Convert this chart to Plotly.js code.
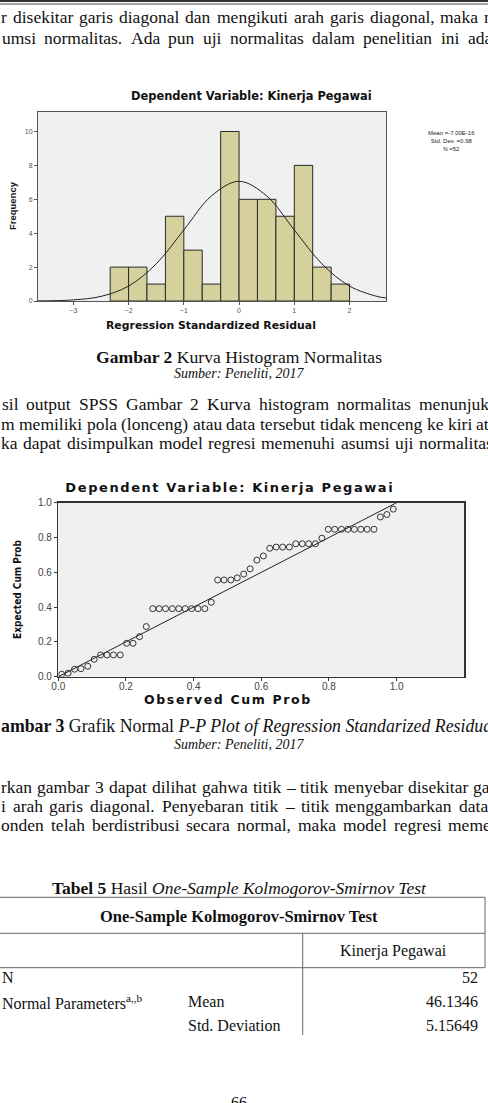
<!DOCTYPE html>
<html><head><meta charset="utf-8">
<script src="https://cdn.plot.ly/plotly-3.0.1.min.js"></script>
<style>html,body{margin:0;padding:0;background:#fff;overflow:hidden}</style>
</head><body>
<div id="chart" style="width:488px;height:1103px"></div>
<script>
// ===== DATA =====
// Histogram (Gambar 2)
const histBinEdges = [-2.333,-2,-1.667,-1.333,-1,-0.667,-0.333,0,0.333,0.667,1,1.333,1.667,2];
const histCounts   = [2,2,1,5,3,1,10,6,6,5,8,2,1];
const histXTicks   = [-3,-2,-1,0,1,2];
const histYTicks   = [0,2,4,6,8,10];
const curveX = [-3.64,-3.5,-3.0,-2.5,-2.0,-1.5,-1.0,-0.5,0,0.5,1.0,1.5,2.0,2.5,2.66];
const curveY = [0.007,0.012,0.065,0.27,0.88,2.19,4.19,6.2,7.06,6.2,4.19,2.19,0.88,0.27,0.18];
const histStats = ["Mean =-7.00E-16","Std. Dev. =0.98","N =52"];
// P-P plot (Gambar 3)
const ppObserved = [0.010,0.029,0.048,0.067,0.087,0.106,0.125,0.144,0.163,0.183,0.202,0.221,0.240,0.260,0.279,0.298,0.317,0.337,0.356,0.375,0.394,0.413,0.433,0.452,0.471,0.490,0.510,0.529,0.548,0.567,0.587,0.606,0.625,0.644,0.663,0.683,0.702,0.721,0.740,0.760,0.779,0.798,0.817,0.837,0.856,0.875,0.894,0.913,0.933,0.952,0.971,0.990];
const ppExpected = [0.014,0.020,0.043,0.046,0.060,0.100,0.125,0.125,0.125,0.125,0.192,0.192,0.230,0.288,0.391,0.391,0.391,0.391,0.391,0.391,0.391,0.391,0.391,0.428,0.556,0.556,0.556,0.568,0.590,0.620,0.670,0.694,0.738,0.745,0.745,0.745,0.764,0.764,0.764,0.764,0.796,0.847,0.847,0.847,0.847,0.847,0.847,0.847,0.847,0.918,0.932,0.963];
const ppRefX = [0,1];
const ppRefY = [0,1];
const ppTicks = [0,0.2,0.4,0.6,0.8,1.0];
// Table 5
const tableTitle = "One-Sample Kolmogorov-Smirnov Test";
const tableColHeader = "Kinerja Pegawai";
const tableRowLabels = ["N","Normal Parameters<sup>a,,b</sup>",""];
const tableSubLabels = ["","Mean","Std. Deviation"];
const tableValues = ["52","46.1346","5.15649"];
// Page text
const textTop = [
  "r disekitar garis diagonal dan mengikuti arah garis diagonal, maka m",
  "umsi normalitas. Ada pun uji normalitas dalam penelitian ini ada"];
const textMid = [
  "sil output SPSS Gambar 2 Kurva histogram normalitas menunjuk",
  "m memiliki pola (lonceng) atau data tersebut tidak menceng ke kiri at",
  "ka dapat disimpulkan model regresi memenuhi asumsi uji normalitas"];
const textLow = [
  "rkan gambar 3 dapat dilihat gahwa titik \u2013 titik menyebar disekitar ga",
  "i arah garis diagonal. Penyebaran titik \u2013 titik menggambarkan data",
  "onden telah berdistribusi secara normal, maka model regresi meme"];

// ===== LAYOUT HELPERS =====
const W = 488, H = 1103;
const SERIF = "Liberation Serif, Times New Roman, serif";
const ARIAL = "Liberation Sans, Arial, sans-serif";
const WIDE = "DejaVu Sans, Verdana, sans-serif";
const NARROW = "Liberation Sans Narrow, DejaVu Sans Condensed, sans-serif";
const fx = x => x / W, fy = y => 1 - y / H;
const ctx = document.createElement('canvas').getContext('2d');
function measure(t, size, family, weight, style) {
  const fam = family.split(',').map(s => { s = s.trim(); return /\s/.test(s) ? "'" + s + "'" : s; }).join(',');
  ctx.font = (style || 'normal') + ' ' + (weight || 'normal') + ' ' + size + 'px ' + fam;
  return ctx.measureText(t).width;
}
function fit(t, family, weight, target) { return 20 * target / measure(t, 20, family, weight); }

const anns = [];
const spacing = {};
function A(text, x, y, o) {
  o = o || {};
  anns.push({text: text, x: fx(x), y: fy(y), xref: 'paper', yref: 'paper', showarrow: false,
    xanchor: o.xa || 'center', yanchor: 'middle', textangle: o.angle || 0, align: o.align || 'center',
    borderpad: 0,
    font: {family: o.family || SERIF, size: o.size || 17, color: o.color || '#111', weight: o.weight || 'normal', style: o.style || 'normal'}});
  return anns.length - 1;
}
// text drawn with a little extra letter spacing so it spans `target` px at a given font size
function spaced(text, x, y, size, target, o) {
  o = Object.assign({family: WIDE, weight: 'bold', size: size}, o || {});
  const w = measure(text, size, o.family, o.weight);
  const idx = A(text, x, y, o);
  spacing[idx] = Math.max(0, (target - w) / text.length);
}
function justify(line, y, x0, x1, size) {
  const words = line.split(' ');
  const ws = words.map(w => measure(w, size, SERIF));
  const tot = ws.reduce((a, b) => a + b, 0);
  const gap = words.length > 1 ? (x1 - x0 - tot) / (words.length - 1) : 0;
  let x = x0;
  words.forEach((w, i) => { A(w, x, y, {xa: 'left', size: size}); x += ws[i] + gap; });
}
const shapes = [];
function L(x0, y0, x1, y1, w, c) {
  shapes.push({type: 'line', xref: 'paper', yref: 'paper', x0: fx(x0), y0: fy(y0), x1: fx(x1), y1: fy(y1),
    line: {color: c || '#555', width: w || 1}});
}

// ===== TEXT =====
const BODY = 17.5;
L(0, 1, W, 1, 2, '#333'); L(0, 4, W, 4, 1, '#444');
justify(textTop[0], 16.7, 0, 497, BODY);
justify(textTop[1], 38.5, 0.5, 491, BODY);
justify(textMid[0], 404, 0.5, 488, BODY);
justify(textMid[1], 424, 0, 488, BODY);
justify(textMid[2], 443.5, 0, 492, BODY);
justify(textLow[0], 787.3, 0, 489, BODY);
justify(textLow[1], 806, 0, 487, BODY);
justify(textLow[2], 825, 0, 490, BODY);

A("<b>Gambar 2</b> Kurva Histogram Normalitas", 239, 356.7, {size: 17.6});
A("<i>Sumber: Peneliti, 2017</i>", 238.5, 374, {size: 14});
A("<b>ambar 3</b> Grafik Normal <i>P-P Plot of Regression Standarized Residua</i>", -0.5, 726, {xa: 'left', size: 17.8});
A("<i>Sumber: Peneliti, 2017</i>", 238.5, 744.3, {size: 14});
A("<b>Tabel 5</b> Hasil <i>One-Sample Kolmogorov-Smirnov Test</i>", 239.2, 887.7, {size: 17.5});

// chart titles & axis labels
const T1 = "Dependent Variable: Kinerja Pegawai";
A(T1, 251.5, 96.5, {family: WIDE, weight: 'bold', size: fit(T1, WIDE, 'bold', 241), color: '#111'});
A("Regression Standardized Residual", 211, 325.7, {family: WIDE, weight: 'bold', size: fit("Regression Standardized Residual", WIDE, 'bold', 210)});
A("Frequency", 12, 206, {family: ARIAL, weight: 'bold', angle: -90, size: fit("Frequency", ARIAL, 'bold', 48)});
A(histStats.join('<br>'), 451, 141, {family: ARIAL, size: 6, color: '#222'});
spaced(T1, 230, 487.7, 13, 329);
spaced("Observed Cum Prob", 227.5, 699, 12.5, 168);
A("Expected Cum Prob", 17.5, 589.5, {family: NARROW, weight: 'bold', angle: -90, size: 10});

// ===== TABLE =====
L(0, 897.3, 485, 897.3, 1, '#666');
L(485, 897.3, 485, 967.7, 1, '#666');
L(0, 933.3, 485, 933.3, 1, '#666');
L(0, 967.7, 485, 967.7, 1, '#666');
L(302.7, 933.3, 302.7, 1035, 1, '#666');
A("<b>" + tableTitle + "</b>", 239, 916.7, {size: 16.5});
A(tableColHeader, 393, 951, {size: 16});
const rowY = [977.7, 1001.7, 1025];
tableRowLabels.forEach((t, i) => { if (t) A(t, 1, rowY[i], {xa: 'left', size: 16}); });
tableSubLabels.forEach((t, i) => { if (t) A(t, 186.5, rowY[i], {xa: 'left', size: 16}); });
tableValues.forEach((t, i) => A(t, 478.5, rowY[i], {xa: 'right', size: 16}));
A("66", 239.3, 1102, {size: 16});

// ===== TRACES =====
const binCenters = histCounts.map((_, i) => (histBinEdges[i] + histBinEdges[i + 1]) / 2);
const binWidths = histCounts.map((_, i) => histBinEdges[i + 1] - histBinEdges[i]);
const traces = [
  {type: 'bar', x: binCenters, y: histCounts, width: binWidths, xaxis: 'x', yaxis: 'y',
   marker: {color: '#d5d09c', line: {color: '#2a2a2a', width: 1}}, hoverinfo: 'x+y'},
  {type: 'scatter', mode: 'lines', x: curveX, y: curveY, xaxis: 'x', yaxis: 'y',
   line: {color: '#222', width: 1, shape: 'spline'}},
  {type: 'scatter', mode: 'lines', x: ppRefX, y: ppRefY, xaxis: 'x2', yaxis: 'y2',
   line: {color: '#222', width: 1}},
  {type: 'scatter', mode: 'markers', x: ppObserved, y: ppExpected, xaxis: 'x2', yaxis: 'y2',
   marker: {symbol: 'circle-open', size: 6, color: '#333', line: {width: 1, color: '#333'}}}
];

const axBase = {showgrid: false, zeroline: false, showline: true, mirror: true, ticks: 'outside',
  ticklen: 3, tickwidth: 1, fixedrange: true};
const layout = {
  width: W, height: H, margin: {l: 0, r: 0, t: 0, b: 0},
  paper_bgcolor: '#ffffff', plot_bgcolor: '#f0f0f0', showlegend: false, bargap: 0,
  xaxis: Object.assign({}, axBase, {domain: [fx(38), fx(386)], range: [-3.64, 2.66], tickvals: histXTicks,
    linecolor: '#555', tickcolor: '#555', tickfont: {family: ARIAL, size: 7, color: '#555'}, anchor: 'y'}),
  yaxis: Object.assign({}, axBase, {domain: [fy(301), fy(112)], range: [0, 11.15], tickvals: histYTicks,
    linecolor: '#555', tickcolor: '#555', tickfont: {family: ARIAL, size: 7, color: '#555'}, anchor: 'x'}),
  xaxis2: Object.assign({}, axBase, {domain: [fx(58.3), fx(464.3)], range: [0, 1.2], tickvals: ppTicks, tickformat: '.1f',
    linecolor: '#333', linewidth: 1.5, tickcolor: '#333', ticklabelstandoff: -3,
    tickfont: {family: ARIAL, size: 10, color: '#444'}, anchor: 'y2'}),
  yaxis2: Object.assign({}, axBase, {domain: [fy(676.7), fy(502.7)], range: [0, 1], tickvals: ppTicks, tickformat: '.1f',
    linecolor: '#333', linewidth: 1.5, tickcolor: '#333', tickfont: {family: ARIAL, size: 10, color: '#444'}, anchor: 'x2'}),
  annotations: anns, shapes: shapes
};
Plotly.newPlot('chart', traces, layout, {staticPlot: true, displayModeBar: false}).then(gd => {
  Object.keys(spacing).forEach(k => {
    const t = gd.querySelector('.annotation[data-index="' + k + '"] text.annotation-text');
    if (t) t.style.letterSpacing = spacing[k].toFixed(2) + 'px';
  });
});
</script>
</body></html>
